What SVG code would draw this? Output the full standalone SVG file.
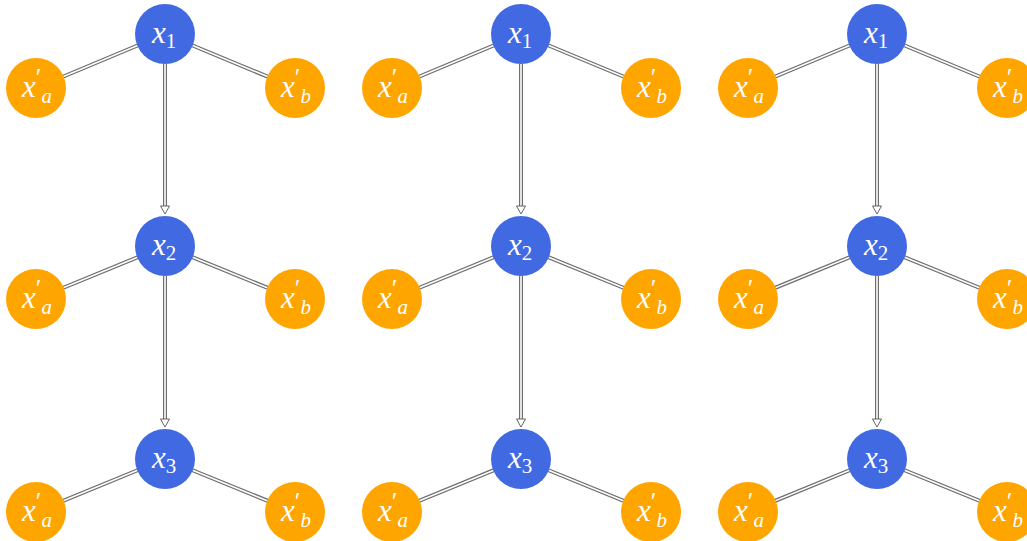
<svg xmlns="http://www.w3.org/2000/svg" xmlns:xlink="http://www.w3.org/1999/xlink" width="1027" height="541" viewBox="0 0 1027 541">
  <style>
    .blue { fill: #4169e1; }
    .orange { fill: #ffa500; }
    text { fill: #ffffff; }
    .main { font-style: italic; font-size: 31px; }
    .sub { font-size: 21px; font-style: normal; }
    .subi { font-size: 21px; font-style: italic; }
    .prime { font-size: 26px; font-style: normal; }
    .edge-out { stroke: #6e6e6e; stroke-width: 4; fill: none; }
    .edge-in { stroke: #ffffff; stroke-width: 1.6; fill: none; }
    .head { fill: #ffffff; stroke: #555555; stroke-width: 0.9; stroke-linejoin: miter; }
  </style>
  <defs>
    <!-- one column of edges, drawn relative to the column's blue x-position -->
    <g id="col-edges">
      <g class="edge-out">
        <path d="M0,34 L-129,88 M0,34 L130,88 M0,246 L-129,299 M0,246 L130,299 M0,459 L-129,512 M0,459 L130,512"/>
        <path d="M0,64 V207 M0,276 V420"/>
      </g>
      <g class="edge-in">
        <path d="M0,34 L-129,88 M0,34 L130,88 M0,246 L-129,299 M0,246 L130,299 M0,459 L-129,512 M0,459 L130,512"/>
        <path d="M0,64 V207.5 M0,276 V420.5"/>
      </g>
      <path class="head" d="M-4.5,206 L4.5,206 L0,214 Z"/>
      <path class="head" d="M-4.5,419 L4.5,419 L0,427 Z"/>
    </g>
  </defs>

  <g id="connectors">
    <use xlink:href="#col-edges" x="165"/>
    <use xlink:href="#col-edges" x="521"/>
    <use xlink:href="#col-edges" x="877"/>
  </g>

  <g font-family="Liberation Serif, serif">
  <!-- column 1 -->
  <g id="c1-x1"><circle class="blue" cx="165" cy="34" r="30"/><text class="main" x="152" y="43">x<tspan class="sub" dy="5">1</tspan></text></g>
  <g id="c1-x1a"><circle class="orange" cx="36" cy="88" r="30"/><text class="main" x="22" y="97">x<tspan class="prime" dy="-11">′</tspan><tspan class="subi" dy="17">a</tspan></text></g>
  <g id="c1-x1b"><circle class="orange" cx="295" cy="88" r="30"/><text class="main" x="281" y="97">x<tspan class="prime" dy="-11">′</tspan><tspan class="subi" dy="17">b</tspan></text></g>
  <g id="c1-x2"><circle class="blue" cx="165" cy="246" r="30"/><text class="main" x="152" y="255">x<tspan class="sub" dy="5">2</tspan></text></g>
  <g id="c1-x2a"><circle class="orange" cx="36" cy="299" r="30"/><text class="main" x="22" y="308">x<tspan class="prime" dy="-11">′</tspan><tspan class="subi" dy="17">a</tspan></text></g>
  <g id="c1-x2b"><circle class="orange" cx="295" cy="299" r="30"/><text class="main" x="281" y="308">x<tspan class="prime" dy="-11">′</tspan><tspan class="subi" dy="17">b</tspan></text></g>
  <g id="c1-x3"><circle class="blue" cx="165" cy="459" r="30"/><text class="main" x="152" y="468">x<tspan class="sub" dy="5">3</tspan></text></g>
  <g id="c1-x3a"><circle class="orange" cx="36" cy="512" r="30"/><text class="main" x="22" y="521">x<tspan class="prime" dy="-11">′</tspan><tspan class="subi" dy="17">a</tspan></text></g>
  <g id="c1-x3b"><circle class="orange" cx="295" cy="512" r="30"/><text class="main" x="281" y="521">x<tspan class="prime" dy="-11">′</tspan><tspan class="subi" dy="17">b</tspan></text></g>

  <!-- column 2 -->
  <g id="c2-x1"><circle class="blue" cx="521" cy="34" r="30"/><text class="main" x="508" y="43">x<tspan class="sub" dy="5">1</tspan></text></g>
  <g id="c2-x1a"><circle class="orange" cx="392" cy="88" r="30"/><text class="main" x="378" y="97">x<tspan class="prime" dy="-11">′</tspan><tspan class="subi" dy="17">a</tspan></text></g>
  <g id="c2-x1b"><circle class="orange" cx="651" cy="88" r="30"/><text class="main" x="637" y="97">x<tspan class="prime" dy="-11">′</tspan><tspan class="subi" dy="17">b</tspan></text></g>
  <g id="c2-x2"><circle class="blue" cx="521" cy="246" r="30"/><text class="main" x="508" y="255">x<tspan class="sub" dy="5">2</tspan></text></g>
  <g id="c2-x2a"><circle class="orange" cx="392" cy="299" r="30"/><text class="main" x="378" y="308">x<tspan class="prime" dy="-11">′</tspan><tspan class="subi" dy="17">a</tspan></text></g>
  <g id="c2-x2b"><circle class="orange" cx="651" cy="299" r="30"/><text class="main" x="637" y="308">x<tspan class="prime" dy="-11">′</tspan><tspan class="subi" dy="17">b</tspan></text></g>
  <g id="c2-x3"><circle class="blue" cx="521" cy="459" r="30"/><text class="main" x="508" y="468">x<tspan class="sub" dy="5">3</tspan></text></g>
  <g id="c2-x3a"><circle class="orange" cx="392" cy="512" r="30"/><text class="main" x="378" y="521">x<tspan class="prime" dy="-11">′</tspan><tspan class="subi" dy="17">a</tspan></text></g>
  <g id="c2-x3b"><circle class="orange" cx="651" cy="512" r="30"/><text class="main" x="637" y="521">x<tspan class="prime" dy="-11">′</tspan><tspan class="subi" dy="17">b</tspan></text></g>

  <!-- column 3 -->
  <g id="c3-x1"><circle class="blue" cx="877" cy="34" r="30"/><text class="main" x="864" y="43">x<tspan class="sub" dy="5">1</tspan></text></g>
  <g id="c3-x1a"><circle class="orange" cx="748" cy="88" r="30"/><text class="main" x="734" y="97">x<tspan class="prime" dy="-11">′</tspan><tspan class="subi" dy="17">a</tspan></text></g>
  <g id="c3-x1b"><circle class="orange" cx="1007" cy="88" r="30"/><text class="main" x="993" y="97">x<tspan class="prime" dy="-11">′</tspan><tspan class="subi" dy="17">b</tspan></text></g>
  <g id="c3-x2"><circle class="blue" cx="877" cy="246" r="30"/><text class="main" x="864" y="255">x<tspan class="sub" dy="5">2</tspan></text></g>
  <g id="c3-x2a"><circle class="orange" cx="748" cy="299" r="30"/><text class="main" x="734" y="308">x<tspan class="prime" dy="-11">′</tspan><tspan class="subi" dy="17">a</tspan></text></g>
  <g id="c3-x2b"><circle class="orange" cx="1007" cy="299" r="30"/><text class="main" x="993" y="308">x<tspan class="prime" dy="-11">′</tspan><tspan class="subi" dy="17">b</tspan></text></g>
  <g id="c3-x3"><circle class="blue" cx="877" cy="459" r="30"/><text class="main" x="864" y="468">x<tspan class="sub" dy="5">3</tspan></text></g>
  <g id="c3-x3a"><circle class="orange" cx="748" cy="512" r="30"/><text class="main" x="734" y="521">x<tspan class="prime" dy="-11">′</tspan><tspan class="subi" dy="17">a</tspan></text></g>
  <g id="c3-x3b"><circle class="orange" cx="1007" cy="512" r="30"/><text class="main" x="993" y="521">x<tspan class="prime" dy="-11">′</tspan><tspan class="subi" dy="17">b</tspan></text></g>
  </g>
</svg>
